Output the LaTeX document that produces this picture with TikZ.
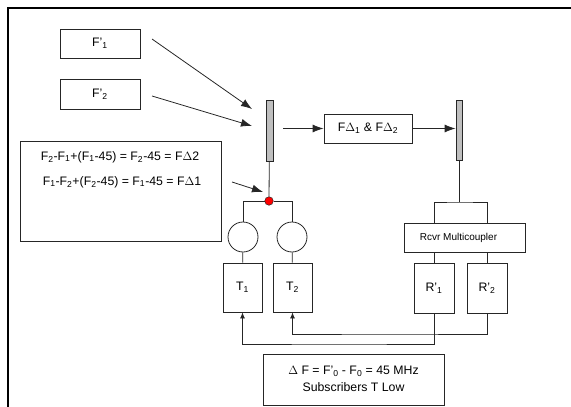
\documentclass[tikz,border=0pt]{standalone}
\usepackage{fontspec}
\setmainfont{Liberation Sans}
\usetikzlibrary{arrows.meta}
\begin{document}
\begin{tikzpicture}[x=1pt,y=-1pt,
  ln/.style={draw=black!85,line width=0.8pt},
  box/.style={ln,rectangle,inner sep=0pt,font=\fontsize{12.3}{14}\selectfont},
  bar/.style={ln,fill=black!25,rectangle,inner sep=0pt,minimum width=7pt,minimum height=61pt},
  big/.style={-{Latex[length=11pt,width=8pt]}},
  small/.style={-{Latex[length=6pt,width=5pt]}},
  txt/.style={inner sep=0pt,font=\fontsize{12.3}{14}\selectfont}]
\useasboundingbox (0,0) rectangle (571,407);
\draw[line width=1.6pt] (8,420) -- (8,8) -- (580,8);
% source boxes
\node[box,minimum width=80pt,minimum height=29pt] (f1) at (100,43.5) {F’\textsubscript{1}};
\node[box,minimum width=80pt,minimum height=30pt] (f2) at (100,94) {F’\textsubscript{2}};
% combiner bars
\node[bar] (bar1) at (269.5,130.5) {};
\node[bar,minimum width=6pt,minimum height=60pt] (bar2) at (459,130) {};
\coordinate (a1s) at (152,39);
\coordinate (a1e) at (252,109);
\coordinate (a2s) at (152,96);
\coordinate (a2e) at (252,126);
\draw[ln,big] (a1s) -- (a1e);
\draw[ln,big] (a2s) -- (a2e);
% F delta box
\node[box,minimum width=88pt,minimum height=29pt] (fd) at (368,128.5) {F$\Delta$\textsubscript{1} \& F$\Delta$\textsubscript{2}};
\coordinate (a3s) at (283,128.5);
\draw[ln,big] (a3s) -- (fd.west);
\draw[ln,big] (fd.east) -- (fd.east -| bar2.west);
% equation box
\node[box,minimum width=201pt,minimum height=100pt] (eq) at (120.5,191) {};
\node[txt] (eq1) at (120,157) {F\textsubscript{2}-F\textsubscript{1}+(F\textsubscript{1}-45) = F\textsubscript{2}-45 = F$\Delta$2};
\node[txt] (eq2) at (122,182) {F\textsubscript{1}-F\textsubscript{2}+(F\textsubscript{2}-45) = F\textsubscript{1}-45 = F$\Delta$1};
% red junction
\node[circle,draw=black!85,line width=0.5pt,fill=red,minimum size=8.5pt,inner sep=0pt] (dot) at (269,201) {};
\coordinate (a4s) at (232,182);
\coordinate (a4e) at (263,192);
\draw[ln,big] (a4s) -- (a4e);
\draw[ln] (bar1) -- (dot);
% circles and transmitters
\node[ln,circle,minimum size=30pt,inner sep=0pt] (c1) at (243,237) {};
\node[ln,circle,minimum size=30pt,inner sep=0pt] (c2) at (292,237) {};
\draw[ln] (c1) |- (dot) -| (c2);
\node[box,minimum width=39pt,minimum height=49pt] (t1) at (242.5,287.5) {T\textsubscript{1}};
\node[box,minimum width=39pt,minimum height=49pt] (t2) at (292.5,287.5) {T\textsubscript{2}};
\draw[ln] (c1) -- (t1);
\draw[ln] (c2) -- (t2);
% receiver side
\node[box,minimum width=121pt,minimum height=29pt,font=\fontsize{10}{12}\selectfont] (mc) at (464.5,237.5) {\hspace*{-12pt}Rcvr Multicoupler};
\node[box,minimum width=40pt,minimum height=50pt] (r1) at (434,288) {R’\textsubscript{1}};
\node[box,minimum width=40pt,minimum height=50pt] (r2) at (487,288) {R’\textsubscript{2}};
\coordinate (mj) at (459,202);
\draw[ln] (bar2) -- (mj);
\draw[ln] (r1 |- mc.north) |- (mj) -| (r2 |- mc.north);
\draw[ln] (r1 |- mc.south) -- (r1);
\draw[ln] (r2 |- mc.south) -- (r2);
% feedback
\coordinate (fb1) at (340,344);
\coordinate (fb2) at (390,334);
\draw[ln,small] (r1.south) |- (fb1) -| (t1.south);
\draw[ln,small] (r2.south) |- (fb2) -| (t2.south);
% bottom note
\node[box,minimum width=181pt,minimum height=51pt] (bt) at (353.5,379.5) {};
\node[txt] (bt1) at (353.5,371) {$\Delta$ F = F’\textsubscript{0} - F\textsubscript{0} = 45 MHz};
\node[txt] (bt2) at (353.5,387) {Subscribers T Low};
\end{tikzpicture}
\end{document}
